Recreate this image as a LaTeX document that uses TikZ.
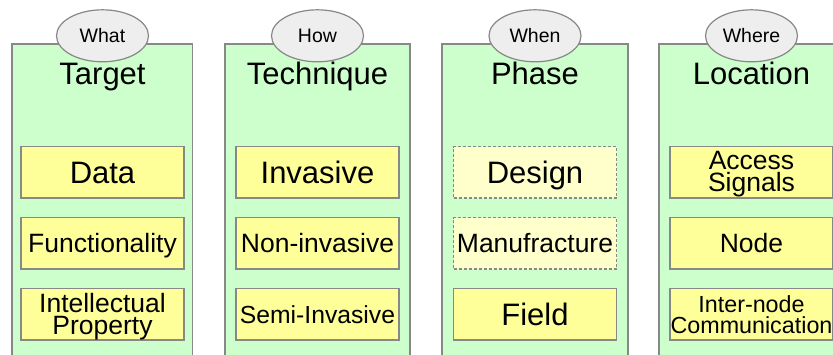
\documentclass[tikz,border=0pt]{standalone}
\usepackage{fontspec}
\setmainfont{Liberation Sans}
\usetikzlibrary{shapes.geometric}
\definecolor{gfill}{HTML}{CCFFCC}
\definecolor{yfill}{HTML}{FFFF99}
\definecolor{lyfill}{HTML}{FFFFCC}
\definecolor{efill}{HTML}{EEEEEE}
\definecolor{bord}{HTML}{888888}
\begin{document}
\begin{tikzpicture}[x=1pt,y=-1pt,
  colbox/.style={draw=bord, fill=gfill, line width=1.2pt, minimum height=340pt, inner sep=0pt, anchor=north},
  tag/.style={ellipse, draw=bord, fill=efill, line width=1.2pt, minimum width=92pt, minimum height=52pt, inner sep=0pt,
    font=\fontsize{19.5}{20}\selectfont, text height=14pt, text depth=0pt},
  head/.style={anchor=base, inner sep=0pt, font=\fontsize{31}{33}\selectfont},
  item/.style={draw=bord, fill=yfill, line width=1.2pt, minimum width=163pt, minimum height=51.5pt, inner sep=0pt},
  light/.style={fill=lyfill, dash pattern=on 3pt off 2pt},
  bigtxt/.style={font=\fontsize{31}{33}\selectfont, text height=22.2pt, text depth=0pt},
  midtxt/.style={font=\fontsize{26.5}{28}\selectfont, text height=19pt, text depth=0pt},
  smalltxt/.style={font=\fontsize{24.7}{26}\selectfont, text height=17.7pt, text depth=0pt},
  twotxt/.style={align=center, inner sep=0pt, font=\fontsize{26.5}{21.7}\selectfont},
  tinytxt/.style={align=center, inner sep=0pt, font=\fontsize{23.3}{21}\selectfont}
]
\useasboundingbox (0,0) rectangle (833,354);
\clip (0,0) rectangle (833,354);

% columns
\node[colbox, minimum width=180.5pt] (g1) at (102.25,43.3) {};
\node[colbox, minimum width=185pt] (g2) at (317.5,43.3) {};
\node[colbox, minimum width=186pt] (g3) at (535,43.3) {};
\node[colbox, minimum width=185pt] (g4) at (751.5,43.3) {};

% tags
\node[tag] (e1) at (102.5,35.8) {What};
\node[tag] (e2) at (317.5,35.8) {How};
\node[tag] (e3) at (535,35.8) {When};
\node[tag] (e4) at (751.5,35.8) {Where};

% headings
\node[head] (h1) at (102.5,84.5) {Target};
\node[head] (h2) at (317.5,84.5) {Technique};
\node[head] (h3) at (535,84.5) {Phase};
\node[head] (h4) at (751.5,84.5) {Location};

% column 1
\node[item, bigtxt] (b11) at (102.5,172.25) {Data};
\node[item, midtxt] (b12) at (102.5,243.25) {Functionality};
\node[item] (b13) at (102.5,314.25) {};
\node[twotxt, yshift=-2.7pt] (t13) at (b13.center) {Intellectual\\Property};

% column 2
\node[item, bigtxt] (b21) at (317.5,172.25) {Invasive};
\node[item, midtxt] (b22) at (317.5,243.25) {Non-invasive};
\node[item, smalltxt] (b23) at (317.5,314.25) {Semi-Invasive};

% column 3
\node[item, light, bigtxt] (b31) at (535,172.25) {Design};
\node[item, light, midtxt] (b32) at (535,243.25) {Manufracture};
\node[item, bigtxt] (b33) at (535,314.25) {Field};

% column 4
\node[item] (b41) at (751.5,172.25) {};
\node[twotxt, yshift=-2pt] (t41) at (b41.center) {Access\\Signals};
\node[item, midtxt] (b42) at (751.5,243.25) {Node};
\node[item] (b43) at (751.5,314.25) {};
\node[tinytxt] (t43) at (b43.center) {Inter-node\\Communication};
\end{tikzpicture}
\end{document}
